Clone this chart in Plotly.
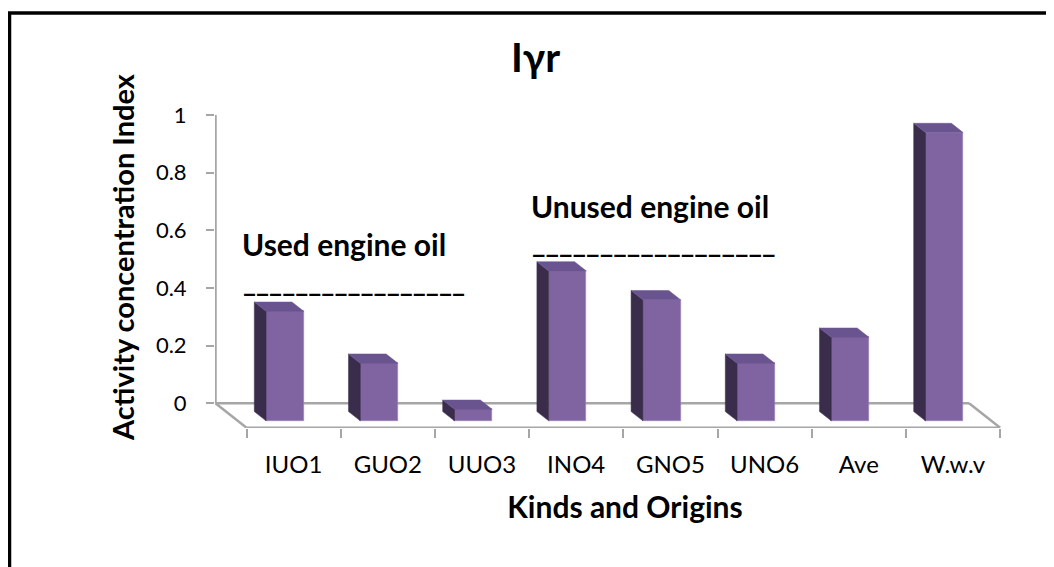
import plotly.graph_objects as go

# ---------------- data ----------------
categories = ["IUO1", "GUO2", "UUO3", "INO4", "GNO5", "UNO6", "Ave", "W.w.v"]
values = [0.38, 0.20, 0.04, 0.52, 0.42, 0.20, 0.29, 1.00]
y_tickvals = [0, 0.2, 0.4, 0.6, 0.8, 1]
y_ticktext = ["0", "0.2", "0.4", "0.6", "0.8", "1"]
chart_title = "Iγr"
x_title = "Kinds and Origins"
y_title = "Activity concentration Index"
group_labels = ["Used engine oil", "Unused engine oil"]

# ---------------- layout geometry (targets in page pixels) ----------------
OFF = 8                      # default body margin of the html page
W, H = 1054, 567
PLOT_L, PLOT_R, PLOT_T, PLOT_B = 215, 1035, 86, 428   # page px
ML, MR, MT, MB = PLOT_L - OFF, W - (PLOT_R - OFF), PLOT_T - OFF, H - (PLOT_B - OFF)

PX_CAT = 94.2          # pixels per category
PX_VAL = 288.3         # pixels per value unit
ORIGIN_X = 215.5       # back-left floor corner (page px)
ORIGIN_Y = 403.3
DEPTH_X = 31 / PX_CAT  # oblique depth offset in category units
DEPTH_Y = 24.4 / PX_VAL
BAR_W = 0.4
D_FRONT = 0.72
D_BACK = 0.34
N = len(categories)

FONT = "Lato"
FRONT_COL = "#8064A2"
SIDE_COL = "#3A2D4C"
TOP_COL = "#6A5490"
FLOOR_COL = "#A6A6A6"

x_range = [(PLOT_L - ORIGIN_X) / PX_CAT, (PLOT_R - ORIGIN_X) / PX_CAT]
y_range = [(ORIGIN_Y - PLOT_B) / PX_VAL, (ORIGIN_Y - PLOT_T) / PX_VAL]


def proj(u, d, v):
    """oblique projection of (category pos, depth, value) onto 2D data coords"""
    return u + DEPTH_X * d, v - DEPTH_Y * d


def px_to_paper(px, py):
    return (px - PLOT_L) / (PLOT_R - PLOT_L), (PLOT_B - py) / (PLOT_B - PLOT_T)


fig = go.Figure()

# side (left) faces and top faces of the 3D bars
sx, sy, tx, ty = [], [], [], []
for k, v in enumerate(values):
    left = k + 0.5 - BAR_W / 2
    right = k + 0.5 + BAR_W / 2
    pts = [proj(left, D_FRONT, 0), proj(left, D_FRONT, v),
           proj(left, D_BACK, v), proj(left, D_BACK, 0), proj(left, D_FRONT, 0)]
    sx += [p[0] for p in pts] + [None]
    sy += [p[1] for p in pts] + [None]
    pts = [proj(left, D_FRONT, v), proj(right, D_FRONT, v),
           proj(right, D_BACK, v), proj(left, D_BACK, v), proj(left, D_FRONT, v)]
    tx += [p[0] for p in pts] + [None]
    ty += [p[1] for p in pts] + [None]

fig.add_trace(go.Scatter(x=sx, y=sy, mode="lines", fill="toself",
                         fillcolor=SIDE_COL, line=dict(width=0.5, color=SIDE_COL),
                         hoverinfo="skip", showlegend=False))
fig.add_trace(go.Scatter(x=tx, y=ty, mode="lines", fill="toself",
                         fillcolor=TOP_COL, line=dict(width=0.5, color=TOP_COL),
                         hoverinfo="skip", showlegend=False))

# front faces
fx = [k + 0.5 + DEPTH_X * D_FRONT for k in range(N)]
fig.add_trace(go.Bar(x=fx, y=values, base=-DEPTH_Y * D_FRONT, width=BAR_W,
                     marker=dict(color=FRONT_COL, line=dict(width=0.6, color="#9A86B8")),
                     customdata=categories, hovertemplate="%{customdata}: %{y}<extra></extra>",
                     showlegend=False))

# floor & wall lines
shapes = []
floor_segs = [
    (proj(0, 0, 0), proj(N, 0, 0)),
    (proj(0, 0, 0), proj(0, 1, 0)),
    (proj(N, 0, 0), proj(N, 1, 0)),
    (proj(0, 1, 0), proj(N, 1, 0)),
    (proj(0, 0, 0), proj(0, 0, max(y_tickvals))),
]
for a, b in floor_segs:
    shapes.append(dict(type="line", xref="x", yref="y", x0=a[0], y0=a[1], x1=b[0], y1=b[1],
                       line=dict(color=FLOOR_COL, width=2.5), layer="below"))

# outer border (only left/top visible)
bx0, by1 = px_to_paper(OFF + 1.5, 13)
shapes.append(dict(type="rect", xref="paper", yref="paper", x0=bx0, x1=2, y0=-2, y1=by1,
                   line=dict(color="black", width=3.5), fillcolor="rgba(0,0,0,0)"))

annotations = []
tx_, ty_ = px_to_paper(535, 57)
annotations.append(dict(text="<b>%s</b>" % chart_title, xref="paper", yref="paper",
                        x=tx_, y=ty_, xanchor="center", yanchor="middle", showarrow=False,
                        font=dict(family=FONT, size=40, color="black")))
# group labels: (text left px, text mid px, underline bottom px, n underscores, size)
gl = [(240, 244, 300, 17, 28), (529, 206, 261, 18, 29)]
for text, (gx, gy, uy, n, fs) in zip(group_labels, gl):
    ax, ay = px_to_paper(gx, gy)
    annotations.append(dict(text="<b>%s</b>" % text, xref="paper", yref="paper",
                            x=ax, y=ay, xanchor="left", yanchor="middle", showarrow=False,
                            font=dict(family=FONT, size=30, color="black")))
    ax, ay = px_to_paper(gx + 1, uy)
    annotations.append(dict(text="<b>%s</b>" % ("_" * n), xref="paper", yref="paper",
                            x=ax, y=ay, xanchor="left", yanchor="bottom", showarrow=False,
                            font=dict(family=FONT, size=fs, color="black")))

fig.update_layout(
    width=W, height=H,
    margin=dict(l=ML, r=MR, t=MT, b=MB, pad=0),
    paper_bgcolor="white", plot_bgcolor="rgba(0,0,0,0)",
    shapes=shapes, annotations=annotations,
    bargap=0,
    font=dict(family=FONT, color="black"),
)
fig.update_xaxes(
    range=x_range, showgrid=False, zeroline=False, showline=False,
    tickmode="array",
    tickvals=[k + 0.5 + DEPTH_X for k in range(N)], ticktext=categories,
    ticks="", tickfont=dict(family=FONT, size=24, color="black"),
    ticklabelstandoff=20,
    minor=dict(tickmode="array", tickvals=[k + DEPTH_X for k in range(N + 1)],
               ticks="outside", ticklen=9, tickwidth=2, tickcolor=FLOOR_COL),
    title=dict(text="<b>%s</b>" % x_title, font=dict(family=FONT, size=30), standoff=19),
    fixedrange=True,
)
fig.update_yaxes(
    range=y_range, showgrid=False, zeroline=False, showline=False,
    tickmode="array", tickvals=y_tickvals, ticktext=y_ticktext,
    ticks="outside", ticklen=8, tickwidth=2, tickcolor=FLOOR_COL,
    tickfont=dict(family=FONT, size=22, color="black"),
    ticklabelstandoff=15,
    title=dict(text="<b>%s</b>" % y_title, font=dict(family=FONT, size=29), standoff=12),
    fixedrange=True,
)

fig.write_html("out.html")
